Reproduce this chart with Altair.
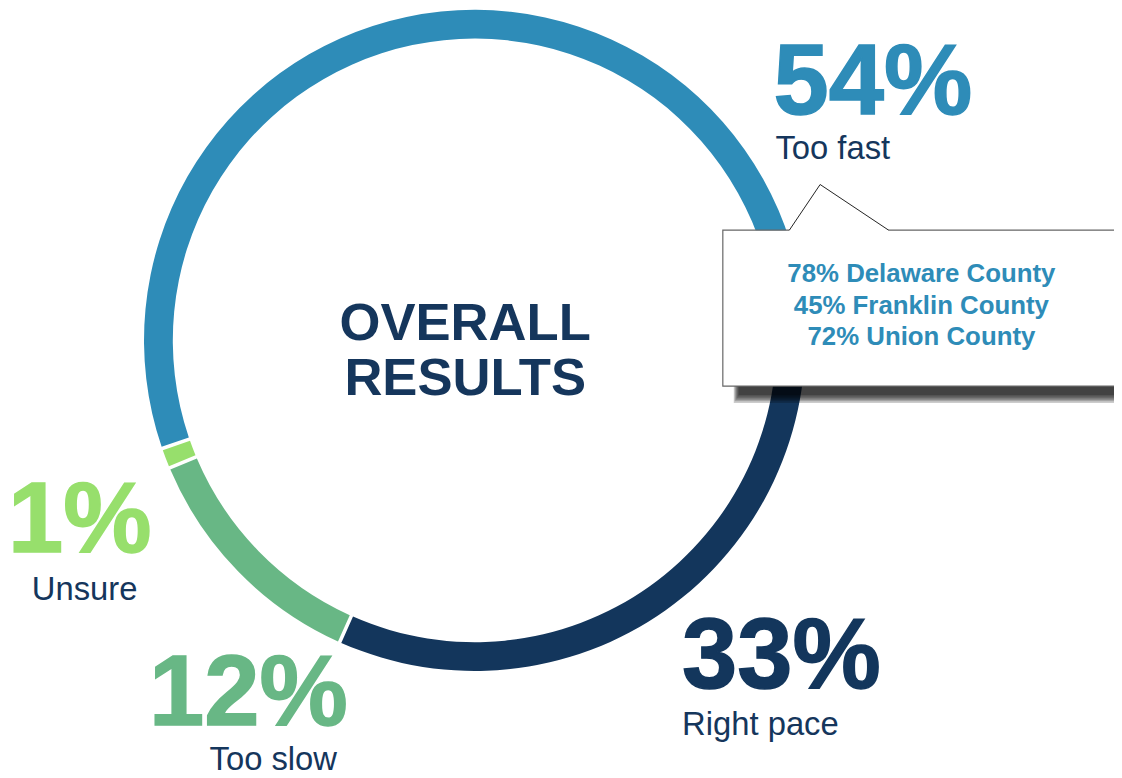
import math
import altair as alt
import pandas as pd

# ---------------- data ----------------
categories = ["Right pace", "Too slow", "Unsure", "Too fast"]
values = [33, 12, 1, 54]
pct_labels = ["33%", "12%", "1%", "54%"]
colors = ["#13365c", "#68b785", "#97df6c", "#2e8cb8"]

counties = ["Delaware County", "Franklin County", "Union County"]
county_values = [78, 45, 72]

center_lines = ["OVERALL", "RESULTS"]

# ---------------- layout (pixels in chart frame) ----------------
W, H = 1114, 770
FONT = "Liberation Sans"
NAVY = "#15365c"
BLUE = "#2e8cb8"

ring = dict(cx=470, cy=332, r_out=333, r_in=304, start_deg=85.3)
label_pos = {  # pct x, pct baseline, name x, name baseline
    "Too fast": (771, 104, 773, 149),
    "Right pace": (679, 682, 679, 729),
    "Too slow": (142, 719, 203, 765),
    "Unsure": (0, 545, 24, 594),
}
center_pos = [(460.5, 332), (460.5, 387)]
box = dict(x=720, x2=1160, y=221, y2=378)
pointer = dict(xs=[787, 818, 887], ys=[221, 175, 221])
callout_x = 920
callout_y = [273, 305, 337]

xs = alt.Scale(domain=[0, W], range=[0, W], nice=False, zero=False)
ys = alt.Scale(domain=[0, H], range=[0, H], nice=False, zero=False)


def X(f="px"):
    return alt.X(f"{f}:Q", scale=xs, axis=None)


def Y(f="py"):
    return alt.Y(f"{f}:Q", scale=ys, axis=None)


# ---------------- ring ----------------
ring_df = pd.DataFrame({"cat": categories, "value": values, "ord": list(range(len(categories)))})
start = math.radians(ring["start_deg"])
arc = alt.Chart(ring_df).mark_arc(
    radius=ring["r_out"], radius2=ring["r_in"], padAngle=0.008
).encode(
    theta=alt.Theta("value:Q", stack=True, scale=alt.Scale(range=[start, start + 2 * math.pi])),
    color=alt.Color("cat:N", scale=alt.Scale(domain=categories, range=colors), legend=None),
    order=alt.Order("ord:Q"),
    x=alt.value(ring["cx"]),
    y=alt.value(ring["cy"]),
)

# ---------------- callout ----------------
shadow_df = pd.DataFrame({
    "px": [731 + i for i in range(6)],
    "px2": [1160] * 6,
    "py": [300] * 6,
    "py2": [395 - 1.6 * i for i in range(6)],
})
shadow = alt.Chart(shadow_df).mark_rect(color="black", opacity=0.2).encode(
    x=X(), x2="px2:Q", y=Y(), y2="py2:Q"
)

box_df = pd.DataFrame({"px": [box["x"]], "px2": [box["x2"]], "py": [box["y"]], "py2": [box["y2"]]})
box_mark = alt.Chart(box_df).mark_rect(fill="white", stroke="#666666", strokeWidth=1.2).encode(
    x=X(), x2="px2:Q", y=Y(), y2="py2:Q"
)

ptr_df = pd.DataFrame({
    "px": pointer["xs"], "py": pointer["ys"],
    "py2": [box["y"] + 1.5] * 3, "i": [0, 1, 2],
})
ptr_fill = alt.Chart(ptr_df).mark_area(color="white").encode(x=X(), y=Y(), y2="py2:Q")
ptr_line = alt.Chart(ptr_df).mark_line(color="#222222", strokeWidth=1).encode(
    x=X(), y=Y(), order="i:Q"
)

call_df = pd.DataFrame({
    "txt": [f"{v}% {c}" for v, c in zip(county_values, counties)],
    "px": [callout_x] * 3,
    "py": callout_y,
})
call_text = alt.Chart(call_df).mark_text(
    font=FONT, fontSize=26, fontWeight="bold", color=BLUE, align="center", baseline="alphabetic"
).encode(x=X(), y=Y(), text="txt:N")

# ---------------- labels ----------------
lab_df = pd.DataFrame({
    "cat": categories,
    "pct": pct_labels,
    "color": colors,
    "px": [label_pos[c][0] for c in categories],
    "py": [label_pos[c][1] for c in categories],
    "nx": [label_pos[c][2] for c in categories],
    "ny": [label_pos[c][3] for c in categories],
})
pct_text = alt.Chart(lab_df).mark_text(
    font=FONT, fontSize=100, fontWeight="bold", align="left", baseline="alphabetic",
    strokeWidth=1.5,
).encode(
    x=X(), y=Y(), text="pct:N",
    color=alt.Color("color:N", scale=None),
    stroke=alt.Stroke("color:N", scale=None),
)
name_text = alt.Chart(lab_df).mark_text(
    font=FONT, fontSize=33, color=NAVY, align="left", baseline="alphabetic"
).encode(x=X("nx"), y=Y("ny"), text="cat:N")

cen_df = pd.DataFrame({
    "txt": center_lines,
    "px": [p[0] for p in center_pos],
    "py": [p[1] for p in center_pos],
})
cen_text = alt.Chart(cen_df).mark_text(
    font=FONT, fontSize=53, fontWeight="bold", color=NAVY, align="center", baseline="alphabetic"
).encode(x=X(), y=Y(), text="txt:N")

chart = alt.layer(
    arc, shadow, box_mark, ptr_fill, ptr_line, call_text, pct_text, name_text, cen_text
).properties(
    width=W, height=H, padding=0, autosize="none", background="white"
).configure_view(strokeWidth=0)

chart.save("out.html", embed_options={"renderer": "svg", "actions": False})
